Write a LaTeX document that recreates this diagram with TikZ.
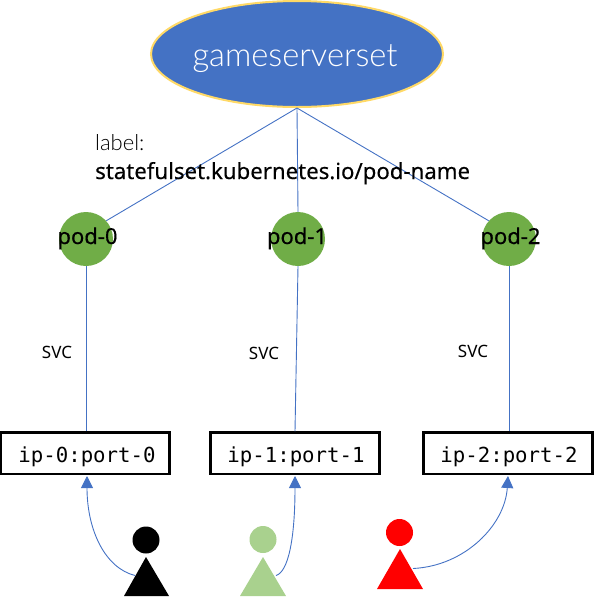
\documentclass[tikz,border=0pt]{standalone}
\usepackage{fontspec}
\setmainfont{Noto Sans}
\newfontfamily\lightf{Lato Light}
\newfontfamily\monof{DejaVu Sans Mono}
\newfontfamily\medf[FakeBold=0.3]{Noto Sans}
\usetikzlibrary{shapes.geometric,arrows.meta}
\definecolor{wordblue}{HTML}{4472C4}
\definecolor{wordgold}{HTML}{FFD966}
\definecolor{wordgreen}{HTML}{70AD47}
\definecolor{softgreen}{HTML}{A9D18E}
\tikzset{
  link/.style={draw=wordblue,line width=0.9pt},
  req/.style={link,-{Triangle[length=12pt,width=12pt,fill=wordblue]}},
  podnode/.style={circle,fill=wordgreen,minimum size=54pt,inner sep=0pt},
  podtext/.style={anchor=base,inner sep=0pt,font=\medf\fontsize{22}{24}\selectfont},
  ipbox/.style={draw=black,line width=2.3pt,fill=white,minimum width=169pt,minimum height=41.5pt,inner sep=0pt},
  iptext/.style={anchor=base,inner sep=0pt,font=\monof\fontsize{20.7}{24}\selectfont},
  svclabel/.style={font=\fontsize{17}{20}\selectfont},
  head/.style={circle,minimum size=27pt,inner sep=0pt},
}
\begin{document}
\begin{tikzpicture}[x=1pt,y=-1pt]
\useasboundingbox (0,0) rectangle (594,598);
\node[ellipse,draw=wordgold,line width=2pt,fill=wordblue,minimum width=292pt,minimum height=106pt,inner sep=0pt] (gs) at (297,54) {};
\node[text=white,inner sep=0pt,anchor=base,font=\lightf\fontsize{32.7}{36}\selectfont] (gst) at (295,66) {gameserverset};
\node[podnode] (p0) at (86,239) {};
\node[podnode] (p1) at (298,239) {};
\node[podnode] (p2) at (509,239) {};
\node[ipbox] (b0) at (85,453.3) {};
\node[ipbox] (b1) at (295,453.3) {};
\node[ipbox] (b2) at (508,453.3) {};
\draw[link] (gs.south) -- (p0.42);
\draw[link] (gs.south) -- (p1.north);
\draw[link] (gs.south) -- (p2.138);
\draw[link] (p0.south) -- (p0.south |- b0.north);
\draw[link] (p1.south) -- (b1.north);
\draw[link] (p2.south) -- (p2.south |- b2.north);
\node[anchor=base west,inner sep=0pt,font=\lightf\fontsize{22}{24}\selectfont] (lab) at (95,150.5) {label:};
\node[anchor=base west,inner sep=0pt,font=\medf\fontsize{22.2}{24}\selectfont] (sel) at (95,179) {statefulset.kubernetes.io/pod-name};
\node[podtext] (pt0) at (87.5,244) {pod-0};
\node[podtext] (pt1) at (297,244) {pod-1};
\node[podtext] (pt2) at (510.5,244) {pod-2};
\node[iptext] (it0) at (87,462) {ip-0:port-0};
\node[iptext] (it1) at (296,462) {ip-1:port-1};
\node[iptext] (it2) at (509,462) {ip-2:port-2};
\node[svclabel] (s0) at (57,352) {SVC};
\node[svclabel] (s1) at (264,353) {SVC};
\node[svclabel] (s2) at (473,351) {SVC};
% people
\node[head,fill=black] (h0) at (146,540) {};
\node[head,fill=softgreen] (h1) at (263,539.5) {};
\node[head,fill=red] (h2) at (399.5,532.5) {};
\fill[black] (146,557) -- (169,596) -- (124,596) -- cycle;
\fill[softgreen] (263,557) -- (286,596) -- (240,596) -- cycle;
\fill[red] (400,549) -- (423,589) -- (377,589) -- cycle;
\coordinate (t0) at (135,575.5);
\coordinate (t1) at (276,575.5);
\coordinate (t2) at (413,568.5);
\coordinate (a0) at (87,476);
\coordinate (a1) at (295,476);
\coordinate (a2) at (508,476);
\draw[req] (t0) .. controls (105,568) and (87,530) .. (a0);
\draw[req] (t1) .. controls (288,572) and (295,540) .. (a1);
\draw[req] (t2) .. controls (465,566) and (505,525) .. (a2);
\end{tikzpicture}
\end{document}
